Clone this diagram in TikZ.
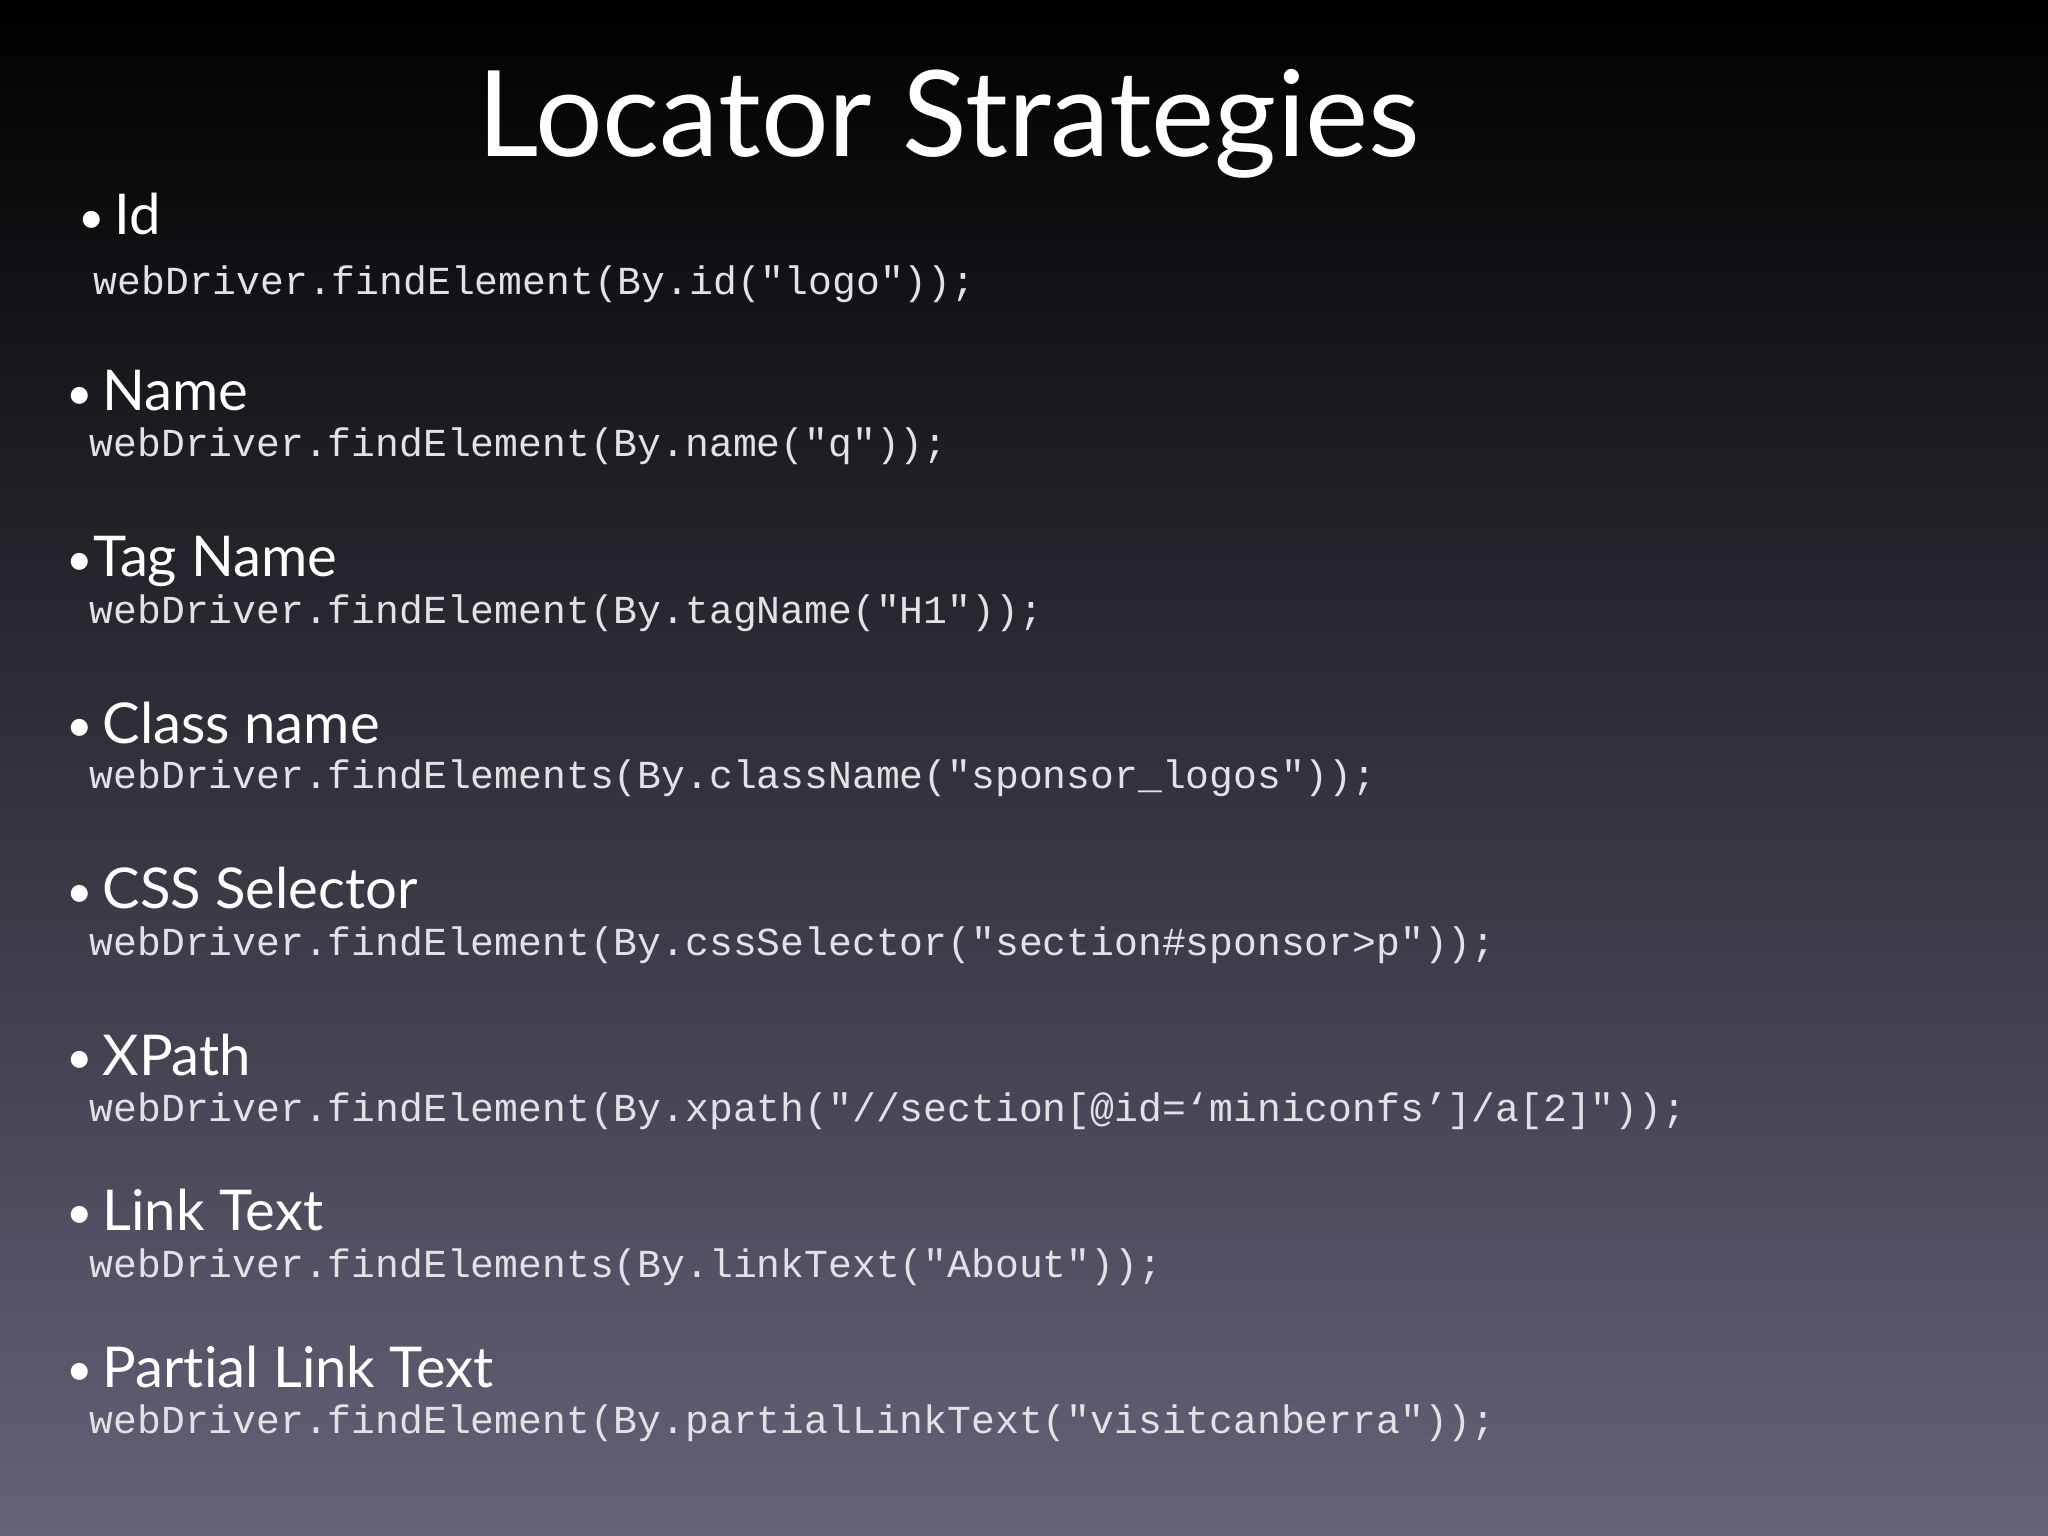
\documentclass[tikz,border=0pt]{standalone}
\usepackage{fontspec}
\setmainfont[Ligatures=NoCommon]{Lato}
\setmonofont{Liberation Mono}
\newcommand{\bul}{{\fontsize{13pt}{15pt}\selectfont\raisebox{0.5pt}{•}}}
\begin{document}
\begin{tikzpicture}[x=1cm,y=1cm,
  head/.style={anchor=base west,inner sep=0pt,text=white,font=\fontsize{16pt}{19pt}\selectfont},
  code/.style={anchor=base west,inner sep=0pt,text={rgb,255:red,225;green,225;blue,230},font=\ttfamily\fontsize{11.3pt}{13pt}\selectfont}]
\shade[top color=black,middle color={rgb,255:red,30;green,30;blue,50},bottom color={rgb,255:red,100;green,98;blue,120}] (0,0) rectangle (20.48,-15.36);
\useasboundingbox (0,0) rectangle (20.48,-15.36);
\node[anchor=base,inner sep=0pt,text=white,font=\fontsize{34pt}{40pt}\selectfont] (title) at (9.49,-1.57) {Locator Strategies};
\node[head] (h1) at (0.78,-2.35) {\bul\,Id};
\node[code] (c1) at (0.93,-2.95) {webDriver.findElement(By.id("logo"));};
\node[head] (h2) at (0.66,-4.11) {\bul\,Name};
\node[code] (c2) at (0.89,-4.57) {webDriver.findElement(By.name("q"));};
\node[head] (h3) at (0.66,-5.77) {\bul Tag Name};
\node[code] (c3) at (0.89,-6.23) {webDriver.findElement(By.tagName("H1"));};
\node[head] (h4) at (0.66,-7.43) {\bul\,Class name};
\node[code] (c4) at (0.89,-7.89) {webDriver.findElements(By.className("sponsor\_logos"));};
\node[head] (h5) at (0.66,-9.09) {\bul\,CSS Selector};
\node[code] (c5) at (0.89,-9.55) {webDriver.findElement(By.cssSelector("section\#sponsor>p"));};
\node[head] (h6) at (0.66,-10.75) {\bul\,XPath};
\node[code] (c6) at (0.89,-11.21) {webDriver.findElement(By.xpath("//section[@id=‘miniconfs’]/a[2]"));};
\node[head] (h7) at (0.66,-12.30) {\bul\,Link Text};
\node[code] (c7) at (0.89,-12.77) {webDriver.findElements(By.linkText("About"));};
\node[head] (h8) at (0.66,-13.87) {\bul\,Partial Link Text};
\node[code] (c8) at (0.89,-14.33) {webDriver.findElement(By.partialLinkText("visitcanberra"));};
\end{tikzpicture}
\end{document}
